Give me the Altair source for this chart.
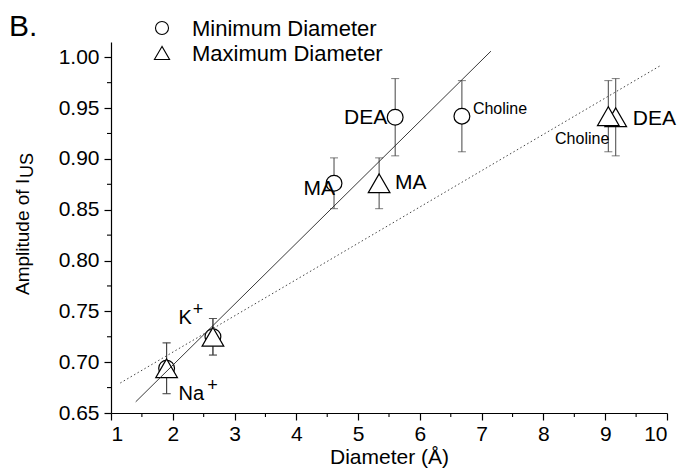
import altair as alt
import pandas as pd

# ---------------- data ----------------
ions = ["Na+", "K+", "MA", "DEA", "Choline"]
min_diameter = [1.90, 2.65, 4.61, 5.60, 6.68]
max_diameter = [1.90, 2.65, 5.34, 9.17, 9.05]
amplitude = [0.694, 0.725, 0.876, 0.941, 0.942]
amp_error = [0.025, 0.018, 0.025, 0.038, 0.035]

series_names = ["Minimum Diameter", "Maximum Diameter"]
series_shapes = ["circle", "triangle-up"]

fit_min_x = [1.40, 7.15]
fit_min_y = [0.661, 1.006]
fit_max_x = [1.15, 9.90]
fit_max_y = [0.6795, 0.992]

x_major = [1, 2, 3, 4, 5, 6, 7, 8, 9, 10]
x_minor = [1.5, 2.5, 3.5, 4.5, 5.5, 6.5, 7.5, 8.5, 9.5]
y_major = [0.65, 0.70, 0.75, 0.80, 0.85, 0.90, 0.95, 1.00]
y_minor = [0.675, 0.725, 0.775, 0.825, 0.875, 0.925, 0.975]

x_title = "Diameter (Å)"
y_title_main = "Amplitude of I"
y_title_sub = "US"
panel_label = "B."

# ---------------- tables ----------------
rows = []
for s, diam in zip(series_names, [min_diameter, max_diameter]):
    for ion, d, a, e in zip(ions, diam, amplitude, amp_error):
        rows.append({"series": s, "ion": ion, "d": d, "amp": a,
                     "lo": a - e, "hi": a + e})
pts = pd.DataFrame(rows)

fit_min = pd.DataFrame({"d": fit_min_x, "amp": fit_min_y})
fit_max = pd.DataFrame({"d": fit_max_x, "amp": fit_max_y})
xminor_df = pd.DataFrame({"d": x_minor})
yminor_df = pd.DataFrame({"amp": y_minor})

FONT = "Liberation Sans"
W, H = 556, 371

xs = alt.Scale(domain=[1, 10], nice=False, zero=False)
ys = alt.Scale(domain=[0.65, 1.015], nice=False, zero=False)

X = alt.X("d:Q", scale=xs, axis=alt.Axis(values=x_major, format="d", title=x_title,
                                          labelPadding=3, titlePadding=2))
Y = alt.Y("lo:Q", scale=ys, axis=alt.Axis(values=y_major, format=".2f", title=None,
                                           labelPadding=5))

base = alt.Chart(pts)

err = base.mark_rule(color="#444444", strokeWidth=1).encode(
    x=X, y=Y, y2="hi:Q")
cap_lo = base.mark_tick(orient="horizontal", size=8, thickness=1, color="#444444").encode(
    x="d:Q", y="lo:Q")
cap_hi = base.mark_tick(orient="horizontal", size=8, thickness=1, color="#444444").encode(
    x="d:Q", y="hi:Q")

pts_min = base.transform_filter(alt.datum.series == series_names[0]).mark_point(
    shape=series_shapes[0], fill="white", fillOpacity=1, stroke="black", strokeWidth=1.2,
    opacity=1, size=250
).encode(x="d:Q", y="amp:Q")
pts_max = base.transform_filter(alt.datum.series == series_names[1]).mark_point(
    shape=series_shapes[1], fill="white", fillOpacity=1, stroke="black", strokeWidth=1.2,
    opacity=1, size=470
).encode(x="d:Q", y="amp:Q")

line_min = alt.Chart(fit_min).mark_line(color="#222222", strokeWidth=0.9).encode(
    x="d:Q", y="amp:Q")
line_max = alt.Chart(fit_max).mark_line(color="#444444", strokeWidth=1,
                                        strokeDash=[1.5, 2.5]).encode(x="d:Q", y="amp:Q")

# labels: (series, ion, text, dx, dy, fontSize, align)
label_specs = [
    ("Minimum Diameter", "DEA", "DEA", -8, 1, 21, "right"),
    ("Minimum Diameter", "MA", "MA", 1, 6, 21, "right"),
    ("Minimum Diameter", "Choline", "Choline", 11, -7, 16, "left"),
    ("Maximum Diameter", "MA", "MA", 16, 0, 21, "left"),
    ("Maximum Diameter", "Choline", "Choline", 1, 23, 16, "right"),
    ("Maximum Diameter", "DEA", "DEA", 17, 2, 21, "left"),
    ("Minimum Diameter", "K+", "K", -21, -19, 20, "right"),
    ("Minimum Diameter", "K+", "+", -15, -27, 18, "center"),
    ("Minimum Diameter", "Na+", "Na", 12, 26, 20, "left"),
    ("Minimum Diameter", "Na+", "+", 46, 18, 18, "center"),
]
label_layers = []
for s, ion, txt, dx, dy, fs, al in label_specs:
    label_layers.append(
        base.transform_filter(
            (alt.datum.series == s) & (alt.datum.ion == ion)
        ).mark_text(text=txt, dx=dx, dy=dy, fontSize=fs, align=al, baseline="middle",
                    font=FONT, color="black").encode(x="d:Q", y="amp:Q")
    )

minor_x = alt.Chart(xminor_df).mark_rule(color="black", strokeWidth=1.1).encode(
    x="d:Q", y=alt.value(H), y2=alt.value(H + 4))
minor_y = alt.Chart(yminor_df).mark_rule(color="black", strokeWidth=1.1).encode(
    y="amp:Q", x=alt.value(-4), x2=alt.value(0))

# ---- legend (drawn as marks, placed in the top-left corner) ----
legend_df = pd.DataFrame({"series": series_names, "shape": series_shapes})
legend_layers = []
for i, (name, shp, sz) in enumerate(zip(series_names, series_shapes, [170, 230])):
    row = alt.Chart(legend_df).transform_filter(alt.datum.series == name)
    legend_layers.append(row.mark_point(shape=shp, size=sz, fill="white", fillOpacity=1,
                                        stroke="black", strokeWidth=1.1, opacity=1).encode(
        x=alt.value(51), y=alt.value(-14 + 25 * i)))
    legend_layers.append(row.mark_text(align="left", baseline="middle", fontSize=22,
                                       font=FONT, color="black").encode(
        text="series:N", x=alt.value(81), y=alt.value(-13 + 25 * i)))

# ---- y-axis title with subscript, and panel label ----
ytitle = alt.Chart(pd.DataFrame({"t": [y_title_main]})).mark_text(
    angle=270, align="left", baseline="alphabetic", fontSize=19, font=FONT,
    color="black").encode(text="t:N", x=alt.value(-82), y=alt.value(253))
ysub = alt.Chart(pd.DataFrame({"t": [y_title_sub]})).mark_text(
    angle=270, align="left", baseline="alphabetic", fontSize=18, font=FONT,
    color="black").encode(text="t:N", x=alt.value(-78), y=alt.value(136))
plabel = alt.Chart(pd.DataFrame({"t": [panel_label]})).mark_text(
    align="left", baseline="alphabetic", fontSize=30, font=FONT,
    color="black").encode(text="t:N", x=alt.value(-102), y=alt.value(-6))

chart = alt.layer(
    err, cap_lo, cap_hi, pts_min, pts_max, line_min, line_max, *label_layers,
    minor_x, minor_y, *legend_layers, ytitle, ysub, plabel
).properties(
    width=W, height=H,
    background="white",
    autosize=alt.AutoSizeParams(type="none"),
    padding={"left": 111, "top": 42, "right": 12, "bottom": 56},
).configure_view(stroke=None).configure_axis(
    grid=False, domainColor="black", domainWidth=1.2, tickColor="black", tickWidth=1.2,
    tickSize=7, labelFont=FONT, labelFontSize=21, labelColor="black",
    titleFont=FONT, titleFontSize=21, titleFontWeight="normal", titleColor="black",
)

chart.save("out.html", embed_options={"renderer": "svg", "actions": False})
